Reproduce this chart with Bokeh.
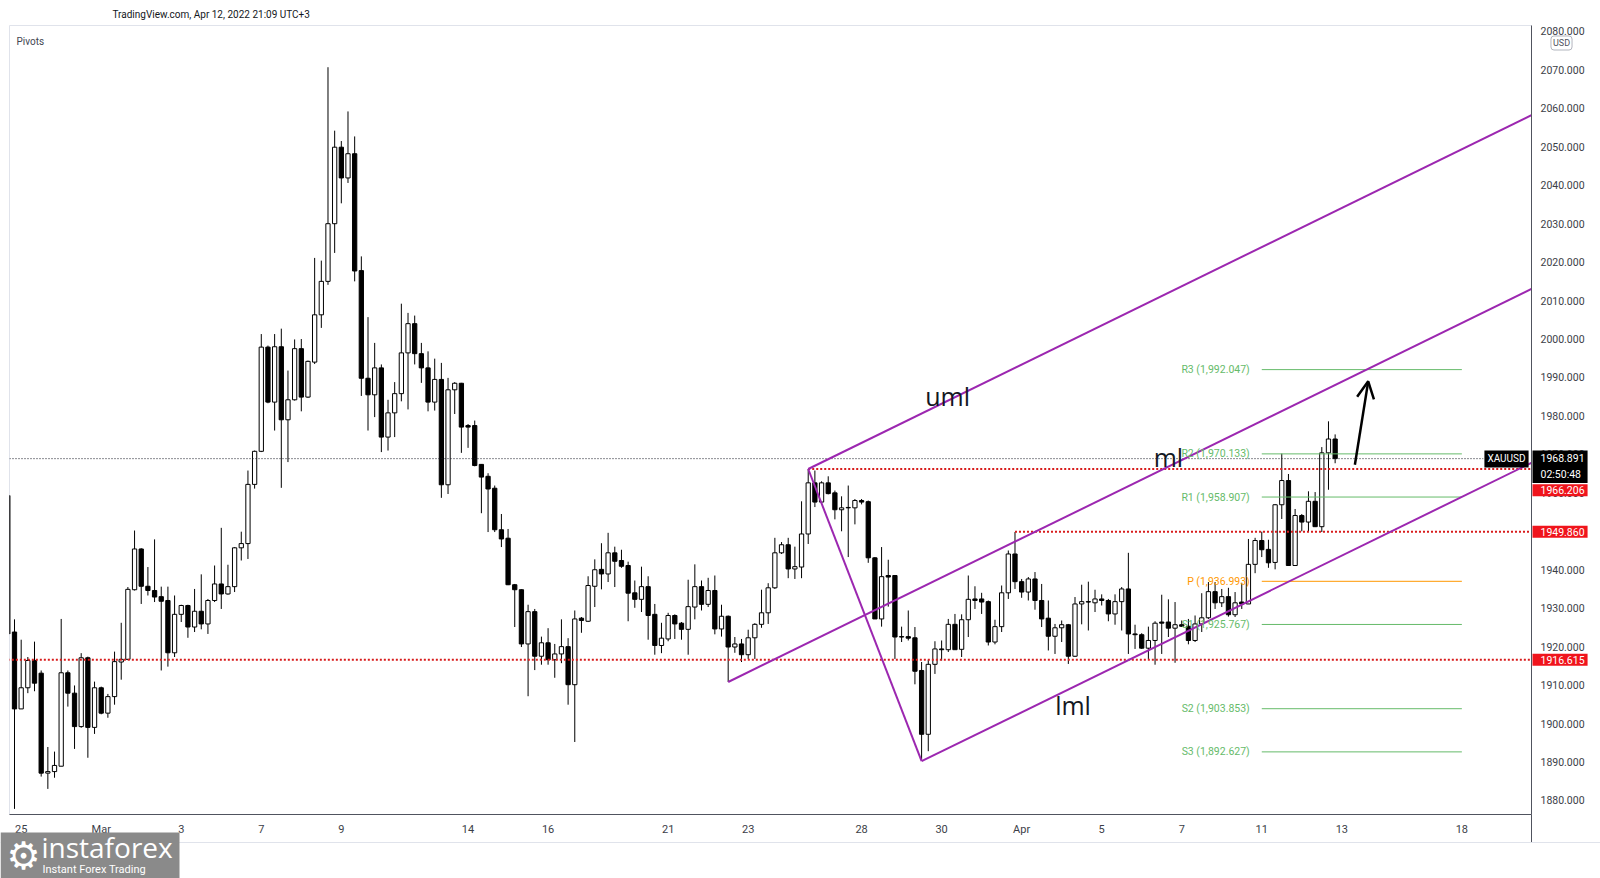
from bokeh.plotting import figure
from bokeh.layouts import column
from bokeh.models import (ColumnDataSource, Range1d, FixedTicker, NumeralTickFormatter,
                          Label, Arrow, OpenHead, BoxAnnotation)
from bokeh.embed import file_html
from bokeh.resources import INLINE

# ---------------- data (4H candles, XAUUSD) ----------------
opens = [1959.3, 1923.8, 1903.8, 1909.3, 1916.4, 1913.1, 1887.1, 1887.5, 1888.9, 1913.2,
         1907.9, 1899.2, 1917.1, 1899.0, 1909.3, 1902.7, 1907.0, 1916.0, 1916.7, 1934.8,
         1945.4, 1935.7, 1934.6, 1933.0, 1932.0, 1918.4, 1928.4, 1930.7, 1925.1, 1929.2,
         1925.9, 1932.0, 1936.3, 1933.7, 1935.6, 1945.7, 1946.8, 1962.2, 1970.8, 1997.9,
         1983.6, 1998.0, 1979.0, 1984.2, 1997.5, 1984.9, 1994.0, 2006.3, 2015.0, 2030.0,
         2049.9, 2041.9, 2048.2, 2017.8, 1989.8, 1985.5, 1992.5, 1974.5, 1980.8, 1985.8,
         1996.4, 2004.0, 1996.2, 1992.5, 1983.6, 1989.5, 1962.1, 1986.8, 1988.5, 1977.5,
         1977.5, 1967.4, 1964.3, 1961.2, 1950.4, 1948.2, 1936.1, 1934.8, 1920.7, 1929.1,
         1917.5, 1921.0, 1916.6, 1918.1, 1920.0, 1910.1, 1927.4, 1926.6, 1935.7, 1940.1,
         1938.9, 1944.4, 1942.4, 1941.1, 1934.0, 1932.3, 1935.6, 1928.4, 1920.3, 1922.0,
         1928.1, 1926.1, 1924.5, 1930.3, 1935.6, 1931.0, 1934.6, 1924.6, 1927.9, 1919.9,
         1920.7, 1917.9, 1922.3, 1925.8, 1928.8, 1935.3, 1944.4, 1946.5, 1940.2, 1940.7,
         1949.3, 1962.6, 1957.6, 1962.6, 1960.0, 1955.6, 1956.1, 1956.1, 1958.0, 1957.7,
         1943.1, 1927.2, 1938.5, 1938.5, 1922.6, 1922.6, 1922.3, 1913.8, 1897.2, 1915.4,
         1919.4, 1919.2, 1925.8, 1919.3, 1927.0, 1932.4, 1932.4, 1931.7, 1921.2, 1925.2,
         1934.0, 1944.1, 1936.9, 1934.2, 1937.6, 1932.0, 1927.4, 1922.7, 1924.9, 1925.7,
         1917.5, 1931.1, 1931.7, 1931.4, 1932.4, 1932.0, 1928.5, 1931.7, 1935.0, 1923.3,
         1923.1, 1919.6, 1921.6, 1926.4, 1926.4, 1924.8, 1925.7, 1925.3, 1921.6, 1925.9,
         1927.5, 1934.3, 1931.4, 1933.0, 1928.3, 1931.6, 1931.1, 1941.4, 1947.6, 1945.3,
         1941.9, 1956.9, 1963.2, 1941.1, 1954.1, 1952.4, 1957.8, 1951.2, 1970.4, 1974.0]

highs = [1960.5, 1927.1, 1921.8, 1917.3, 1921.3, 1913.8, 1893.9, 1892.7, 1927.2, 1913.8,
         1909.9, 1918.3, 1917.4, 1910.9, 1909.6, 1907.7, 1918.7, 1926.2, 1935.5, 1950.2,
         1945.6, 1940.7, 1947.9, 1935.6, 1935.6, 1933.3, 1930.9, 1930.9, 1935.0, 1938.8,
         1932.4, 1941.1, 1950.9, 1941.3, 1945.9, 1949.9, 1965.8, 1971.0, 2001.3, 1998.3,
         2001.3, 2002.7, 1991.8, 1999.9, 2000.0, 1994.4, 2021.1, 2020.4, 2070.7, 2054.2,
         2051.5, 2059.2, 2052.7, 2021.5, 2005.7, 1999.0, 1993.4, 1984.2, 1988.8, 2009.2,
         2006.8, 2006.1, 1999.0, 1996.8, 1994.9, 1993.8, 1989.9, 1988.8, 1988.6, 1977.9,
         1978.8, 1967.5, 1965.1, 1961.9, 1954.5, 1950.6, 1936.3, 1934.9, 1930.9, 1929.8,
         1922.6, 1924.8, 1920.7, 1927.1, 1922.2, 1929.4, 1927.7, 1938.3, 1942.7, 1946.9,
         1949.6, 1946.0, 1945.2, 1942.1, 1937.2, 1940.8, 1938.3, 1931.1, 1926.2, 1928.8,
         1928.4, 1926.4, 1937.4, 1941.4, 1937.2, 1937.9, 1938.5, 1930.9, 1928.1, 1922.5,
         1922.0, 1924.4, 1926.1, 1934.8, 1936.5, 1948.3, 1947.2, 1948.3, 1946.0, 1957.8,
         1966.2, 1965.8, 1963.0, 1964.3, 1960.6, 1959.1, 1961.9, 1958.4, 1958.4, 1958.0,
         1943.3, 1945.9, 1942.6, 1938.5, 1925.2, 1929.4, 1925.1, 1916.0, 1916.6, 1921.4,
         1921.6, 1927.2, 1928.5, 1928.4, 1938.5, 1935.7, 1934.0, 1932.0, 1927.0, 1935.9,
         1945.0, 1949.8, 1937.6, 1938.1, 1939.4, 1936.3, 1932.0, 1925.9, 1926.8, 1925.9,
         1932.9, 1936.1, 1936.9, 1934.8, 1933.6, 1932.4, 1933.6, 1935.5, 1944.4, 1925.7,
         1923.5, 1925.2, 1926.6, 1933.5, 1932.3, 1931.6, 1926.8, 1927.2, 1928.1, 1933.9,
         1936.8, 1936.8, 1935.0, 1935.3, 1934.2, 1936.6, 1948.0, 1948.3, 1949.9, 1947.8,
         1957.1, 1970.2, 1964.9, 1955.8, 1954.5, 1960.4, 1960.2, 1971.9, 1978.6, 1975.2]

lows = [1921.5, 1877.8, 1903.8, 1907.9, 1908.4, 1886.2, 1883.0, 1885.9, 1888.9, 1904.4,
        1893.4, 1898.9, 1891.1, 1897.3, 1902.4, 1901.5, 1904.9, 1911.4, 1916.5, 1934.6,
        1931.1, 1933.3, 1931.6, 1913.8, 1914.8, 1917.3, 1926.4, 1922.3, 1923.8, 1924.5,
        1923.3, 1931.6, 1929.8, 1933.5, 1934.2, 1942.4, 1942.8, 1961.1, 1970.6, 1983.3,
        1976.2, 1961.3, 1968.0, 1984.0, 1981.2, 1984.7, 1993.5, 2002.9, 2014.1, 2022.4,
        2035.3, 2040.6, 2015.0, 1985.2, 1976.2, 1979.7, 1970.6, 1971.0, 1974.5, 1983.8,
        1981.7, 1993.4, 1988.6, 1981.2, 1981.4, 1958.7, 1959.7, 1980.5, 1970.4, 1971.7,
        1966.9, 1954.7, 1949.8, 1949.8, 1945.9, 1936.0, 1925.1, 1919.9, 1907.1, 1913.9,
        1915.3, 1915.3, 1911.9, 1915.7, 1904.9, 1895.2, 1923.6, 1926.4, 1930.3, 1934.9,
        1936.8, 1935.5, 1940.5, 1926.6, 1930.1, 1929.0, 1921.8, 1917.9, 1918.3, 1921.4,
        1922.0, 1921.8, 1917.9, 1927.1, 1929.4, 1930.3, 1923.2, 1922.6, 1910.8, 1918.4,
        1916.0, 1916.8, 1916.8, 1924.9, 1925.9, 1935.0, 1944.1, 1937.8, 1937.6, 1937.8,
        1946.7, 1956.3, 1957.6, 1959.6, 1953.1, 1950.0, 1943.3, 1951.8, 1957.0, 1941.8,
        1927.2, 1925.2, 1930.4, 1916.8, 1921.2, 1921.6, 1910.2, 1890.4, 1892.8, 1912.9,
        1916.4, 1918.6, 1919.2, 1917.3, 1922.5, 1929.8, 1928.5, 1920.3, 1920.6, 1923.8,
        1932.4, 1935.0, 1932.7, 1932.0, 1929.6, 1925.1, 1919.0, 1918.1, 1921.2, 1915.5,
        1917.3, 1925.8, 1924.2, 1929.0, 1930.7, 1926.6, 1925.7, 1924.2, 1918.1, 1919.4,
        1919.4, 1916.8, 1915.3, 1918.1, 1922.5, 1915.8, 1925.1, 1920.6, 1921.2, 1923.8,
        1927.2, 1929.8, 1930.3, 1927.8, 1927.7, 1929.8, 1931.1, 1939.1, 1943.3, 1940.5,
        1940.1, 1953.2, 1941.1, 1941.1, 1950.0, 1950.0, 1951.1, 1949.8, 1960.8, 1967.7]

closes = [1923.3, 1903.8, 1909.3, 1916.4, 1910.5, 1887.1, 1887.5, 1889.1, 1913.2, 1907.9,
          1899.2, 1917.1, 1899.0, 1909.3, 1902.7, 1907.0, 1916.1, 1916.7, 1934.9, 1945.4,
          1935.7, 1934.6, 1932.9, 1931.8, 1918.4, 1928.4, 1930.7, 1925.1, 1929.2, 1925.9,
          1932.0, 1936.3, 1933.7, 1935.6, 1945.7, 1946.8, 1962.2, 1970.8, 1997.9, 1983.6,
          1998.0, 1979.0, 1984.2, 1997.5, 1984.9, 1994.2, 2006.3, 2015.0, 2030.0, 2049.9,
          2041.9, 2048.2, 2017.7, 1989.8, 1985.5, 1992.5, 1974.5, 1980.8, 1985.8, 1996.4,
          2004.0, 1996.2, 1992.5, 1983.6, 1989.5, 1962.1, 1986.8, 1988.5, 1977.1, 1977.1,
          1967.1, 1964.1, 1961.0, 1950.4, 1948.0, 1936.1, 1934.8, 1920.7, 1929.1, 1917.5,
          1921.0, 1916.6, 1918.1, 1920.0, 1910.1, 1927.2, 1926.8, 1935.9, 1940.0, 1938.9,
          1944.4, 1942.2, 1940.9, 1933.9, 1932.3, 1935.6, 1928.1, 1920.3, 1922.2, 1928.1,
          1925.9, 1924.5, 1930.4, 1935.6, 1931.0, 1934.6, 1924.6, 1927.9, 1919.9, 1920.7,
          1917.9, 1922.3, 1925.8, 1928.8, 1935.3, 1944.4, 1946.5, 1940.2, 1940.8, 1949.3,
          1962.6, 1957.6, 1962.6, 1959.8, 1955.6, 1956.1, 1956.2, 1958.0, 1957.6, 1943.1,
          1927.2, 1938.2, 1938.1, 1922.5, 1922.5, 1922.2, 1913.6, 1897.2, 1915.4, 1919.4,
          1919.2, 1925.8, 1919.2, 1927.0, 1932.3, 1932.0, 1931.6, 1921.2, 1925.2, 1934.0,
          1944.1, 1936.9, 1934.2, 1937.6, 1932.0, 1927.2, 1922.7, 1924.9, 1925.7, 1917.5,
          1931.1, 1931.7, 1931.6, 1932.4, 1932.0, 1928.5, 1931.7, 1935.0, 1923.3, 1923.1,
          1919.6, 1921.6, 1926.1, 1926.1, 1924.8, 1925.7, 1925.3, 1921.6, 1925.9, 1927.5,
          1934.3, 1931.4, 1933.0, 1928.3, 1931.4, 1931.1, 1941.4, 1947.6, 1945.2, 1941.8,
          1956.9, 1963.2, 1941.1, 1954.1, 1952.4, 1957.8, 1951.2, 1970.4, 1974.0, 1968.9]

# date labels at the first 4H candle of each labelled day
date_ticks = [2, 14, 26, 38, 50, 69, 81, 99, 111, 128, 140, 152, 164, 176, 188, 200, 218]
date_labels = ["25", "Mar", "3", "7", "9", "14", "16", "21", "23", "28", "30", "Apr",
               "5", "7", "11", "13", "18"]
price_ticks = list(range(1880, 2090, 10))

# weekly pivots
pivot_names = ["R3", "R2", "R1", "P", "S1", "S2", "S3"]
pivot_values = [1992.047, 1970.133, 1958.907, 1936.993, 1925.767, 1903.853, 1892.627]
pivot_from, pivot_to = 188, 218

# horizontal levels (dotted red)
level_values = [1966.206, 1949.860, 1916.615]
level_from = [120, 151, 0]

last_price = 1968.891
countdown = "02:50:48"

# Andrews' pitchfork anchors (candle index, price)
fork_x = [108, 120, 137]
fork_y = [1910.8, 1966.2, 1890.2]

# hand-drawn arrow (candle index, price)
arrow_x = [201.96, 203.96]
arrow_y = [1967.3, 1989.0]

# ---------------- main figure ----------------
W, H = 1600, 878
X0, X1 = 0.25, 228.44
Y0, Y1 = 1876.34, 2081.55
FL, FT, FW, FH = 9, 25, 1522, 789      # frame left/top/width/height in canvas px

fig = figure(frame_width=FW, frame_height=FH, x_range=Range1d(X0, X1), y_range=Range1d(Y0, Y1),
             y_axis_location="right", output_backend="svg", toolbar_location=None,
             min_border_left=FL, min_border_right=W - FL - FW, min_border_top=FT,
             min_border_bottom=H - FT - FH, background_fill_color="white",
             border_fill_color="white")
fig.frame_align = False
fig.title.visible = False
fig.grid.visible = False
fig.outline_line_color = "#e0e3eb"

AX = "#50535e"
fig.xaxis.ticker = FixedTicker(ticks=date_ticks)
fig.xaxis.major_label_overrides = {t: l for t, l in zip(date_ticks, date_labels)}
fig.xaxis.axis_line_color = AX
fig.xaxis.major_tick_line_color = None
fig.xaxis.minor_tick_line_color = None
fig.xaxis.major_tick_out = 0
fig.xaxis.major_tick_in = 0
fig.xaxis.major_label_text_font = "Roboto"
fig.xaxis.major_label_text_font_size = "11px"
fig.xaxis.major_label_text_color = "#3b3e47"
fig.xaxis.major_label_standoff = 8

fig.yaxis.ticker = FixedTicker(ticks=price_ticks)
fig.yaxis.formatter = NumeralTickFormatter(format="0.000")
fig.yaxis.axis_line_color = AX
fig.yaxis.major_tick_line_color = None
fig.yaxis.minor_tick_line_color = None
fig.yaxis.major_tick_out = 0
fig.yaxis.major_tick_in = 0
fig.yaxis.major_label_text_font = "Roboto"
fig.yaxis.major_label_text_font_size = "10.5px"
fig.yaxis.major_label_text_color = "#3b3e47"
fig.yaxis.major_label_standoff = 9

# candles
idx = list(range(len(opens)))
tops = [max(o, c) for o, c in zip(opens, closes)]
bots = [min(o, c) for o, c in zip(opens, closes)]
fills = ["white" if c >= o else "black" for o, c in zip(opens, closes)]
src = ColumnDataSource(dict(i=idx, o=opens, h=highs, l=lows, c=closes,
                            top=tops, bot=bots, fill=fills))
fig.segment(x0="i", y0="l", x1="i", y1="h", source=src, line_color="black", line_width=1)
fig.vbar(x="i", width=0.64, top="top", bottom="bot", source=src,
         fill_color="fill", line_color="black", line_width=1)

# pivots
GREEN, ORANGE = "#66bb6a", "#ff9800"
for name, val in zip(pivot_names, pivot_values):
    col = ORANGE if name == "P" else GREEN
    fig.segment(x0=[pivot_from], y0=[val], x1=[pivot_to], y1=[val], line_color=col, line_width=1)
    fig.add_layout(Label(x=pivot_from - 1.8, y=val, text=f"{name} ({val:,.3f})",
                         text_align="right", text_baseline="middle", text_font="Roboto",
                         text_font_size="10.5px", text_color=col))

# horizontal levels
RED_LINE, RED_BOX = "#d81b1b", "#f0141c"
fig.segment(x0=level_from, y0=level_values, x1=[X1 + 20] * len(level_values), y1=level_values,
            line_color=RED_LINE, line_width=2, line_dash="2 2")
fig.segment(x0=[X0], y0=[last_price], x1=[221.2], y1=[last_price],
            line_color="#131722", line_width=1, line_dash="1 2")

# pitchfork
PURPLE = "#9c27b0"
mid_x = (fork_x[1] + fork_x[2]) / 2
mid_y = (fork_y[1] + fork_y[2]) / 2
slope = (mid_y - fork_y[0]) / (mid_x - fork_x[0])
far = X1 + 20
fx0 = [fork_x[0], fork_x[1], fork_x[2], fork_x[1]]
fy0 = [fork_y[0], fork_y[1], fork_y[2], fork_y[1]]
fx1 = [far, far, far, fork_x[2]]
fy1 = [fork_y[0] + slope * (far - fork_x[0]), fork_y[1] + slope * (far - fork_x[1]),
       fork_y[2] + slope * (far - fork_x[2]), fork_y[2]]
fig.segment(x0=fx0, y0=fy0, x1=fx1, y1=fy1, line_color=PURPLE, line_width=2)

for txt, lx, ly in [("uml", 140.9, 1985.1), ("ml", 174.0, 1969.2), ("lml", 159.7, 1904.7)]:
    fig.add_layout(Label(x=lx, y=ly, text=txt, text_align="center", text_baseline="alphabetic",
                         text_font="Open Sans", text_font_size="25px", text_color="#131722"))

# arrow
fig.add_layout(Arrow(end=OpenHead(size=17, line_width=2.5, line_color="black"),
                     x_start=arrow_x[0], y_start=arrow_y[0], x_end=arrow_x[1], y_end=arrow_y[1],
                     line_width=2.5, line_color="black"))

fig.add_layout(Label(x=1506 - FL, y=FT + FH - 458.4, x_units="screen", y_units="screen",
                     text="XAUUSD", text_align="center", text_baseline="middle",
                     text_font="Roboto", text_font_size="10px", text_color="white",
                     background_fill_color="black", padding=3))
fig.add_layout(Label(x=16 - FL, y=FT + FH - 41, x_units="screen", y_units="screen",
                     text="Pivots", text_baseline="middle", text_font="Roboto",
                     text_font_size="10px", text_color="#434651"))

# ---------------- transparent overlay covering the whole page ----------------
# (price-axis badges, header text and watermark sit outside the main plot frame)
ovl = figure(frame_width=W, frame_height=H, x_range=Range1d(0, W), y_range=Range1d(H, 0),
             min_border=0, output_backend="svg", toolbar_location=None,
             x_axis_type=None, y_axis_type=None, background_fill_color=None,
             border_fill_color=None, outline_line_color=None)
ovl.frame_align = False
ovl.title.visible = False
ovl.grid.visible = False
ovl.styles = {"margin-top": f"-{H}px"}


def cy_of(price):
    return FT + (Y1 - price) * FH / (Y1 - Y0)


def olabel(cx, cy, text, **kw):
    args = dict(x=cx, y=cy, text=text, text_font="Roboto", text_font_size="10.5px",
                text_color="#131722", text_baseline="middle")
    args.update(kw)
    ovl.add_layout(Label(**args))


olabel(112, 14, "TradingView.com, Apr 12, 2022 21:09 UTC+3", text_font_size="10px")

# axis line continuing through the date strip, and strip bottom border
ovl.segment(x0=[FL + FW], y0=[FT + FH], x1=[FL + FW], y1=[842], line_color=AX, line_width=1)
ovl.segment(x0=[0], y0=[842], x1=[W], y1=[842], line_color="#e0e3eb", line_width=1)

# price-axis badges
olabel(FL + FW + 1, cy_of(last_price) - 8.2, f"{last_price:.3f}\n{countdown}",
       text_baseline="top", text_color="white", text_font_size="10.5px",
       background_fill_color="black", padding=dict(left=8, right=3, top=2, bottom=2))
badge_y = [cy_of(level_values[0]) + 21.3, cy_of(level_values[1]), cy_of(level_values[2])]
for val, cy in zip(level_values, badge_y):
    olabel(FL + FW + 1, cy, f"{val:.3f}", text_color="white", text_font_size="10.5px",
           background_fill_color=RED_BOX, padding=dict(left=8, right=3, top=2, bottom=2))
olabel(1561, 42.5, "USD", text_align="center", text_font_size="9px", text_color="#50535e",
       background_fill_color="white", border_line_color="#b2b5be", border_radius=3, padding=2)

# instaforex watermark
ovl.add_layout(BoxAnnotation(left=0, right=179, top=832, bottom=H, fill_color="#8a8a8a",
                             fill_alpha=1.0, line_color=None))
olabel(23, 855, "\u2699", text_align="center", text_font="DejaVu Sans", text_font_size="38px",
       text_color="white")
olabel(41, 846, "instaforex", text_font="Open Sans", text_font_size="28px", text_color="white")
olabel(42, 869, "Instant Forex Trading", text_font="Roboto", text_font_size="11px",
       text_color="white")

p = column(fig, ovl, spacing=0)
open("out.html", "w").write(file_html(p, INLINE))
